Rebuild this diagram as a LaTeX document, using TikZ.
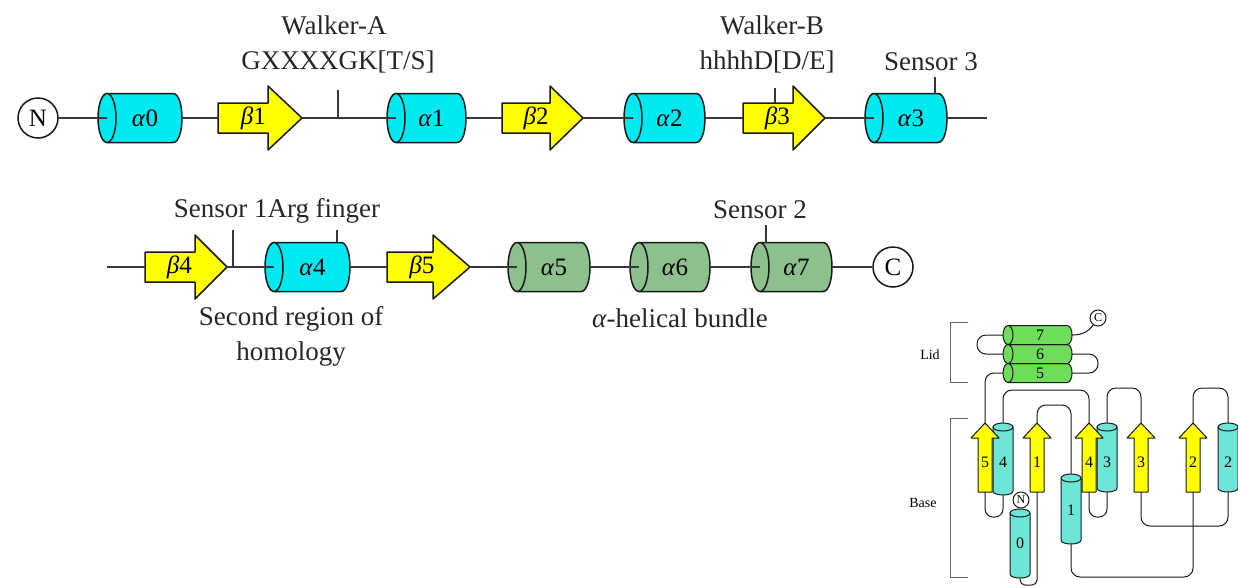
\documentclass[tikz,border=0pt]{standalone}
\usepackage{fontspec}
\setmainfont{Liberation Serif}
\usetikzlibrary{calc}
\definecolor{cyanA}{RGB}{0,232,240}
\definecolor{greenA}{RGB}{140,192,140}
\definecolor{yelA}{RGB}{255,255,0}
\definecolor{lidG}{RGB}{110,222,90}
\definecolor{baseC}{RGB}{110,230,215}
\definecolor{lineC}{RGB}{55,55,55}
\definecolor{edgeC}{RGB}{25,25,25}
\tikzset{
  shp/.style={line width=1.5pt, draw=edgeC, line join=round},
  conn/.style={line width=1.5pt, draw=lineC},
  tick/.style={line width=1.5pt, draw=lineC},
  lab/.style={font=\fontsize{25}{28}\selectfont, inner sep=0pt},
  txt/.style={font=\fontsize{27}{30}\selectfont, text=black!85, inner sep=0pt},
  term/.style={circle, draw=edgeC, line width=1.5pt, minimum size=40pt, inner sep=0pt, font=\fontsize{25}{28}\selectfont},
  thn/.style={line width=1pt, draw=edgeC, line join=round},
  lp/.style={line width=1pt, draw=edgeC, rounded corners=9pt},
  blab/.style={font=\fontsize{16}{18}\selectfont, inner sep=0pt},
  brk/.style={line width=1pt, draw=black!60},
  small/.style={font=\fontsize{14}{16}\selectfont, inner sep=0pt}
}
% horizontal helix: name, x0, x1, yc, label, fill
\newcommand{\hcyl}[6]{%
  \draw[shp, fill=#6] ({#2+9},{#4-24.5}) -- ({#3-9},{#4-24.5})
     .. controls ({#3+3},{#4-24.5}) and ({#3+3},{#4+24.5}) .. ({#3-9},{#4+24.5})
     -- ({#2+9},{#4+24.5}) -- cycle;
  \draw[shp, fill=#6] ({#2+9},#4) ellipse [x radius=9, y radius=24.5];
  \coordinate (#1-w) at ({#2+9},#4);
  \coordinate (#1-e) at (#3,#4);
  \node[lab] (#1-l) at ({(#2+#3)/2+5},#4) {#5};
}
% horizontal strand: name, x0, xh, tip, yc, label
\newcommand{\bstr}[6]{%
  \draw[shp, fill=yelA] (#2,{#5-15}) -- (#3,{#5-15}) -- (#3,{#5-32}) -- (#4,#5)
     -- (#3,{#5+32}) -- (#3,{#5+15}) -- (#2,{#5+15}) -- cycle;
  \coordinate (#1-w) at (#2,#5);
  \coordinate (#1-e) at (#4,#5);
  \node[lab] (#1-l) at ({#2+0.42*(#4-#2)},#5) {#6};
}
% vertical helix: name, xc, ytop, ybot, label, labely
\newcommand{\vcyl}[6]{%
  \draw[thn, fill=baseC] ({#2-10},#3) -- ({#2-10},#4)
     .. controls ({#2-10},{#4+5.3}) and ({#2+10},{#4+5.3}) .. ({#2+10},#4)
     -- ({#2+10},#3) -- cycle;
  \draw[thn, fill=baseC] (#2,#3) ellipse [x radius=10, y radius=4];
  \coordinate (#1-t) at (#2,{#3-4});
  \coordinate (#1-b) at (#2,{#4+4});
  \node[blab] (#1-l) at (#2,#6) {#5};
}
% vertical strand: name, xc, ytip, ybot, label, labely
\newcommand{\vstr}[6]{%
  \draw[thn, fill=yelA] ({#2-7},#4) -- ({#2-7},{#3+15}) -- ({#2-14},{#3+15}) -- (#2,#3)
     -- ({#2+14},{#3+15}) -- ({#2+7},{#3+15}) -- ({#2+7},#4) -- cycle;
  \coordinate (#1-t) at (#2,#3);
  \coordinate (#1-b) at (#2,#4);
  \node[blab] (#1-l) at (#2,#6) {#5};
}
% lid helix: name, yc, label
\newcommand{\lcyl}[3]{%
  \draw[thn, fill=lidG] (1008,{#2-9.5}) -- (1067,{#2-9.5})
     .. controls (1073.7,{#2-9.5}) and (1073.7,{#2+9.5}) .. (1067,{#2+9.5})
     -- (1008,{#2+9.5}) -- cycle;
  \draw[thn, fill=lidG] (1008,#2) ellipse [x radius=5, y radius=9.5];
  \coordinate (#1-w) at (1008,#2);
  \coordinate (#1-e) at (1072,#2);
  \node[blab] (#1-l) at (1040,#2) {#3};
}
\begin{document}
\begin{tikzpicture}[x=1pt, y=-1pt]
\useasboundingbox (0,0) rectangle (1238,587);
\fill[white] (0,0) rectangle (1238,587);

% ---------------- row 1 ----------------
\node[term] (N) at (38,118) {N};
\hcyl{a0}{98}{182}{118}{\textit{α}0}{cyanA}
\bstr{b1}{218}{268}{302}{118}{\textit{β}1}
\hcyl{a1}{387}{466}{118}{\textit{α}1}{cyanA}
\bstr{b2}{502}{550}{583}{118}{\textit{β}2}
\hcyl{a2}{624}{705}{118}{\textit{α}2}{cyanA}
\bstr{b3}{743}{793}{825}{118}{\textit{β}3}
\hcyl{a3}{865}{947}{118}{\textit{α}3}{cyanA}
\coordinate (end1) at (987,118);
\draw[conn] (N) -- (a0-w);
\draw[conn] (a0-e) -- (b1-w);
\draw[conn] (b1-e) -- (a1-w);
\draw[conn] (a1-e) -- (b2-w);
\draw[conn] (b2-e) -- (a2-w);
\draw[conn] (a2-e) -- (b3-w);
\draw[conn] (b3-e) -- (a3-w);
\draw[conn] (a3-e) -- (end1);

\coordinate (wAt) at (338,90);  \coordinate (wAb) at (338,118);
\coordinate (wBt) at (775,88);  \coordinate (wBb) at (775,103);
\coordinate (s3t) at (935,77);  \coordinate (s3b) at (935,94);
\draw[tick] (wAt) -- (wAb);
\draw[tick] (wBt) -- (wBb);
\draw[tick] (s3t) -- (s3b);

\node[txt] (wA1) at (334,25) {Walker-A};
\node[txt] (wA2) at (338,62) {GXXXXGK[T/S]};
\node[txt] (wB1) at (772,25) {Walker-B};
\node[txt] (wB2) at (767,62) {hhhhD[D/E]};
\node[txt] (s3) at (931,62) {Sensor 3};

% ---------------- row 2 ----------------
\coordinate (start2) at (107,267);
\bstr{b4}{145}{195}{227}{267}{\textit{β}4}
\hcyl{a4}{265}{350}{267}{\textit{α}4}{cyanA}
\bstr{b5}{387}{433}{470}{267}{\textit{β}5}
\hcyl{a5}{508}{590}{267}{\textit{α}5}{greenA}
\hcyl{a6}{630}{710}{267}{\textit{α}6}{greenA}
\hcyl{a7}{751}{832}{267}{\textit{α}7}{greenA}
\node[term] (C) at (893,267) {C};
\draw[conn] (start2) -- (b4-w);
\draw[conn] (b4-e) -- (a4-w);
\draw[conn] (a4-e) -- (b5-w);
\draw[conn] (b5-e) -- (a5-w);
\draw[conn] (a5-e) -- (a6-w);
\draw[conn] (a6-e) -- (a7-w);
\draw[conn] (a7-e) -- (C);

\coordinate (s1t) at (233,230); \coordinate (s1b) at (233,267);
\coordinate (agt) at (337,230); \coordinate (agb) at (337,242);
\coordinate (s2t) at (766,225); \coordinate (s2b) at (766,243);
\draw[tick] (s1t) -- (s1b);
\draw[tick] (agt) -- (agb);
\draw[tick] (s2t) -- (s2b);

\node[txt] (s1) at (277,211) {Sensor 1Arg finger};
\node[txt] (s2) at (760,210) {Sensor 2};
\node[txt] (sr1) at (291,319) {Second region of};
\node[txt] (sr2) at (291,354) {homology};
\node[txt] (hb) at (680,318) {\textit{α}-helical bundle};

% ---------------- topology diagram ----------------
% brackets
\draw[brk] (968,322) -- (950,322) -- (950,382) -- (968,382);
\draw[brk] (968,418) -- (950,418) -- (950,577) -- (968,577);
\node[small] (lid) at (930,355) {Lid};
\node[small] (base) at (923,503) {Base};

\coordinate (yA) at (0,390);
\coordinate (yB) at (0,405);
\coordinate (yC) at (0,388);
\coordinate (yD) at (0,517);
\coordinate (yE) at (0,585);
\coordinate (yF) at (0,577);
\coordinate (yG) at (0,526);
\coordinate (xL) at (977,0);
\coordinate (xR) at (1098,0);

% element anchor coordinates (defined before loops)
\coordinate (bb5-t) at (985,423);  \coordinate (bb5-b) at (985,492);
\coordinate (ba4-t) at (1003,423); \coordinate (ba4-b) at (1003,495);
\coordinate (bb1-t) at (1037,423); \coordinate (bb1-b) at (1037,492);
\coordinate (ba1-t) at (1071,474); \coordinate (ba1-b) at (1071,544);
\coordinate (bb4-t) at (1089,423); \coordinate (bb4-b) at (1089,492);
\coordinate (ba3-t) at (1107,423); \coordinate (ba3-b) at (1107,492);
\coordinate (bb3-t) at (1141,423); \coordinate (bb3-b) at (1141,492);
\coordinate (bb2-t) at (1193,423); \coordinate (bb2-b) at (1193,492);
\coordinate (ba2-t) at (1228,423); \coordinate (ba2-b) at (1228,492);
\coordinate (ba0-t) at (1020,509); \coordinate (ba0-b) at (1020,578);
\coordinate (l7-w) at (1008,335); \coordinate (l7-e) at (1072,335);
\coordinate (l6-w) at (1008,354); \coordinate (l6-e) at (1072,354);
\coordinate (l5-w) at (1008,373); \coordinate (l5-e) at (1072,373);

% loops (behind)
\draw[lp] (bb5-t) |- (l5-w);
\draw[lp] (ba4-t) -- (ba4-t |- yA) -| (bb4-t);
\draw[lp, rounded corners=8pt] (bb5-b) -- (bb5-b |- yD) -| (ba4-b);
\draw[lp] (bb1-t) -- (bb1-t |- yB) -| (ba1-t);
\draw[lp, rounded corners=5pt] (ba0-b) -- (ba0-b |- yE) -| (bb1-b);
\draw[lp] (ba1-b) -- (ba1-b |- yF) -| (bb2-b);
\draw[lp] (bb2-t) -- (bb2-t |- yC) -| (ba2-t);
\draw[lp] (ba2-b) -- (ba2-b |- yG) -| (bb3-b);
\draw[lp] (bb3-t) -- (bb3-t |- yC) -| (ba3-t);
\draw[lp, rounded corners=8pt] (ba3-b) -- (ba3-b |- yD) -| (bb4-b);
\draw[lp] (l7-w) -- (l7-w -| xL) |- (l6-w);
\draw[lp] (l6-e) -- (l6-e -| xR) |- (l5-e);

% lid helices
\lcyl{l5}{373}{5}
\lcyl{l6}{354}{6}
\lcyl{l7}{335}{7}
\node[circle, draw=edgeC, line width=1pt, minimum size=16pt, inner sep=0pt, font=\fontsize{12}{12}\selectfont] (Cl) at (1098,318) {C};
\draw[thn] (l7-e) to[out=0, in=235] (Cl);

% base helices
\vcyl{ba4}{1003}{427}{491}{4}{462}
\vcyl{ba3}{1107}{427}{488}{3}{462}
\vcyl{ba2}{1228}{427}{488}{2}{462}
\vcyl{ba1}{1071}{478}{540}{1}{510}
\vcyl{ba0}{1020}{513}{574}{0}{543}
\node[circle, draw=edgeC, line width=1pt, minimum size=16pt, inner sep=0pt, font=\fontsize{12}{12}\selectfont] (Nb) at (1021,500) {N};

% base strands
\vstr{bb5}{985}{423}{492}{5}{462}
\vstr{bb1}{1037}{423}{492}{1}{462}
\vstr{bb4}{1089}{423}{492}{4}{462}
\vstr{bb3}{1141}{423}{492}{3}{462}
\vstr{bb2}{1193}{423}{492}{2}{462}
\end{tikzpicture}
\end{document}
